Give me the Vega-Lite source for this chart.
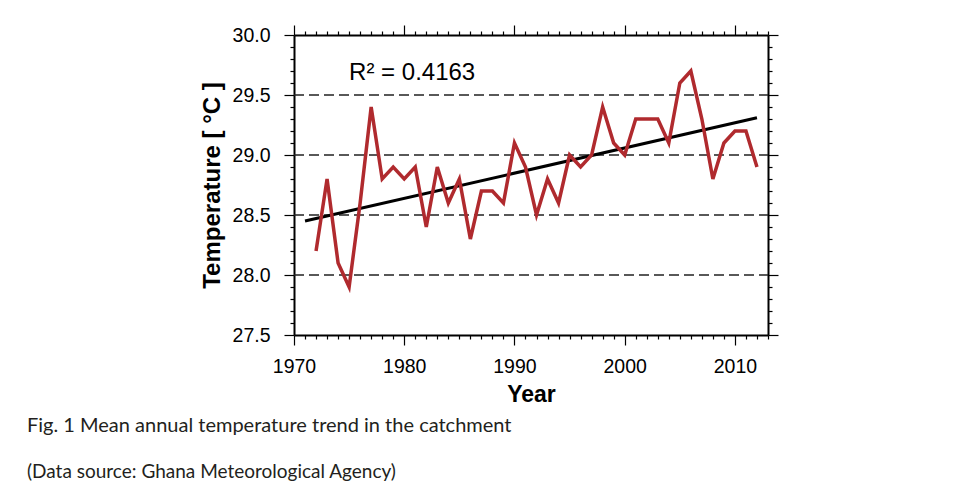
{
  "$schema": "https://vega.github.io/schema/vega-lite/v6.json",
  "autosize": {"type": "none"},
  "width": 474,
  "height": 300,
  "padding": {"left": 294, "top": 35, "right": 190, "bottom": 158},
  "background": "white",
  "title": {
    "text": "Fig. 1  Mean annual temperature trend in the catchment",
    "subtitle": "(Data source: Ghana Meteorological Agency)",
    "orient": "bottom",
    "anchor": "start",
    "frame": "group",
    "dx": -267,
    "offset": 9,
    "font": "Lato",
    "fontSize": 20,
    "fontWeight": "normal",
    "color": "#231f20",
    "subtitleFont": "Lato",
    "subtitleFontSize": 19,
    "subtitleColor": "#231f20",
    "subtitlePadding": 27
  },
  "config": {
    "view": {"stroke": null},
    "axis": {
      "labelFont": "Liberation Sans",
      "titleFont": "Liberation Sans",
      "labelColor": "black",
      "titleColor": "black",
      "domainColor": "black",
      "tickColor": "black",
      "domainWidth": 2,
      "tickWidth": 1.2,
      "labelFlush": false,
      "grid": false
    }
  },
  "resolve": {"axis": {"x": "independent", "y": "independent"}},
  "layer": [
    {
      "data": {"values": [{"level": 28.0}, {"level": 28.5}, {"level": 29.0}, {"level": 29.5}]},
      "mark": {"type": "rule", "color": "#222222", "strokeWidth": 1.5, "strokeDash": [10, 5]},
      "encoding": {
        "y": {"field": "level", "type": "quantitative", "scale": {"domain": [27.5, 30], "nice": false},
              "axis": {"orient": "right", "values": [27.6,27.7,27.8,27.9,28.1,28.2,28.3,28.4,28.6,28.7,28.8,28.9,29.1,29.2,29.3,29.4,29.6,29.7,29.8,29.9], "tickSize": 4, "labels": false, "domain": false, "title": null}},
        "x": {"datum": 1970, "type": "quantitative", "scale": {"domain": [1970, 2013], "nice": false},
              "axis": {"orient": "top", "values": [1971,1972,1973,1974,1975,1976,1977,1978,1979,1981,1982,1983,1984,1985,1986,1987,1988,1989,1991,1992,1993,1994,1995,1996,1997,1998,1999,2001,2002,2003,2004,2005,2006,2007,2008,2009,2011,2012,2013], "tickSize": 4, "labels": false, "domain": false, "title": null}},
        "x2": {"datum": 2013}
      }
    },
    {
      "data": {"values": [{"year": 1971, "trend": 28.45}, {"year": 2012, "trend": 29.31}]},
      "mark": {"type": "line", "color": "black", "strokeWidth": 3},
      "encoding": {
        "x": {"field": "year", "type": "quantitative",
              "axis": {"orient": "bottom", "values": [1971,1972,1973,1974,1975,1976,1977,1978,1979,1981,1982,1983,1984,1985,1986,1987,1988,1989,1991,1992,1993,1994,1995,1996,1997,1998,1999,2001,2002,2003,2004,2005,2006,2007,2008,2009,2011,2012,2013], "tickSize": 4, "labels": false, "domain": false, "title": null}},
        "y": {"field": "trend", "type": "quantitative",
              "axis": {"orient": "left", "values": [27.6,27.7,27.8,27.9,28.1,28.2,28.3,28.4,28.6,28.7,28.8,28.9,29.1,29.2,29.3,29.4,29.6,29.7,29.8,29.9], "tickSize": 4, "labels": false, "domain": false, "title": null}}
      }
    },
    {
      "data": {"values": [
        {"year": 1972, "temp": 28.2}, {"year": 1973, "temp": 28.8}, {"year": 1974, "temp": 28.1},
        {"year": 1975, "temp": 27.9}, {"year": 1976, "temp": 28.6}, {"year": 1977, "temp": 29.4},
        {"year": 1978, "temp": 28.8}, {"year": 1979, "temp": 28.9}, {"year": 1980, "temp": 28.8},
        {"year": 1981, "temp": 28.9}, {"year": 1982, "temp": 28.4}, {"year": 1983, "temp": 28.9},
        {"year": 1984, "temp": 28.6}, {"year": 1985, "temp": 28.8}, {"year": 1986, "temp": 28.3},
        {"year": 1987, "temp": 28.7}, {"year": 1988, "temp": 28.7}, {"year": 1989, "temp": 28.6},
        {"year": 1990, "temp": 29.1}, {"year": 1991, "temp": 28.9}, {"year": 1992, "temp": 28.5},
        {"year": 1993, "temp": 28.8}, {"year": 1994, "temp": 28.6}, {"year": 1995, "temp": 29.0},
        {"year": 1996, "temp": 28.9}, {"year": 1997, "temp": 29.0}, {"year": 1998, "temp": 29.4},
        {"year": 1999, "temp": 29.1}, {"year": 2000, "temp": 29.0}, {"year": 2001, "temp": 29.3},
        {"year": 2002, "temp": 29.3}, {"year": 2003, "temp": 29.3}, {"year": 2004, "temp": 29.1},
        {"year": 2005, "temp": 29.6}, {"year": 2006, "temp": 29.7}, {"year": 2007, "temp": 29.3},
        {"year": 2008, "temp": 28.8}, {"year": 2009, "temp": 29.1}, {"year": 2010, "temp": 29.2},
        {"year": 2011, "temp": 29.2}, {"year": 2012, "temp": 28.9}
      ]},
      "mark": {"type": "line", "color": "#b02a2e", "strokeWidth": 3.5},
      "encoding": {
        "x": {"field": "year", "type": "quantitative",
              "axis": {"orient": "bottom", "values": [1970, 1980, 1990, 2000, 2010], "format": "d", "tickSize": 10, "labelFontSize": 19.5, "labelPadding": 12,
                       "title": "Year", "titleFontSize": 23, "titleFontWeight": "bold", "titlePadding": 8}},
        "y": {"field": "temp", "type": "quantitative",
              "axis": {"orient": "left", "values": [27.5, 28.0, 28.5, 29.0, 29.5, 30.0], "format": ".1f", "tickSize": 10, "labelFontSize": 19.5, "labelPadding": 14,
                       "title": "Temperature [ °C ]", "titleFontSize": 24, "titleFontWeight": "bold", "titlePadding": 8}}
      }
    },
    {
      "data": {"values": [{"label": "R² = 0.4163"}]},
      "mark": {"type": "text", "align": "left", "baseline": "alphabetic", "font": "Liberation Sans", "fontSize": 24, "color": "black"},
      "encoding": {
        "text": {"field": "label"},
        "x": {"datum": 1975, "type": "quantitative",
              "axis": {"orient": "top", "values": [1970, 1980, 1990, 2000, 2010], "tickSize": 10, "labels": false, "title": null}},
        "y": {"datum": 29.625, "type": "quantitative",
              "axis": {"orient": "right", "values": [27.5, 28.0, 28.5, 29.0, 29.5, 30.0], "tickSize": 10, "labels": false, "title": null}}
      }
    }
  ]
}
